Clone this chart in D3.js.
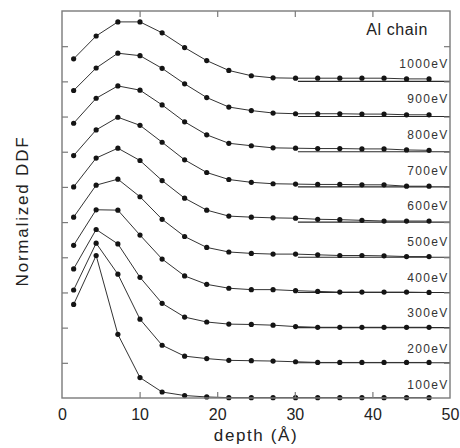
<!DOCTYPE html>
<html>
<head>
<meta charset="utf-8">
<script src="https://cdn.jsdelivr.net/npm/d3@7"></script>
<style>
  html, body { margin: 0; padding: 0; background: #fff; }
  svg { display: block; font-family: "Liberation Sans", Arial, Helvetica, sans-serif; }
</style>
</head>
<body>
<svg id="chart" width="460" height="448"></svg>
<script>
// ---- data ----
const depths = [1.5, 4.4, 7.2, 10.05, 12.9, 15.8, 18.65, 21.5, 24.4, 27.2, 30.1, 32.95, 35.8, 38.65, 41.5, 44.4, 47.3];
const energies = ["100eV", "200eV", "300eV", "400eV", "500eV", "600eV", "700eV", "800eV", "900eV", "1000eV"];
const offsets = [0, 1, 2, 3, 4, 5, 6, 7, 8, 9];
const e100  = [2.66, 4.05, 1.81, 0.58, 0.17, 0.07, 0.03, 0.01, 0.01, 0.01, 0.01, 0.01, 0.01, 0.01, 0.01, 0.01, 0.01];
const e200  = [2.07, 3.40, 2.52, 1.24, 0.50, 0.19, 0.12, 0.07, 0.06, 0.05, 0.03, 0.01, 0.01, 0.01, 0.01, 0.01, 0.01];
const e300  = [1.67, 2.79, 2.38, 1.43, 0.69, 0.30, 0.16, 0.10, 0.09, 0.07, 0.03, 0.01, 0.01, 0.01, 0.01, 0.01, 0.01];
const e400  = [1.34, 2.35, 2.34, 1.63, 0.95, 0.47, 0.23, 0.12, 0.08, 0.08, 0.05, 0.03, 0.01, 0.01, 0.01, 0.01, 0.00];
const e500  = [1.14, 2.05, 2.22, 1.72, 1.08, 0.59, 0.28, 0.15, 0.11, 0.09, 0.09, 0.07, 0.05, 0.05, 0.04, 0.02, 0.02];
const e600  = [1.00, 1.82, 2.10, 1.75, 1.18, 0.68, 0.34, 0.17, 0.14, 0.12, 0.11, 0.08, 0.07, 0.05, 0.03, 0.03, 0.03];
const e700  = [0.89, 1.62, 1.98, 1.75, 1.27, 0.77, 0.41, 0.21, 0.13, 0.09, 0.08, 0.07, 0.07, 0.06, 0.06, 0.02, 0.02];
const e800  = [0.81, 1.52, 1.87, 1.75, 1.33, 0.85, 0.48, 0.24, 0.17, 0.11, 0.10, 0.09, 0.09, 0.08, 0.08, 0.05, 0.04];
const e900  = [0.74, 1.38, 1.80, 1.73, 1.37, 0.93, 0.54, 0.27, 0.17, 0.10, 0.08, 0.08, 0.08, 0.07, 0.07, 0.05, 0.05];
const e1000 = [0.64, 1.29, 1.69, 1.69, 1.38, 0.96, 0.59, 0.31, 0.16, 0.10, 0.09, 0.09, 0.09, 0.09, 0.09, 0.07, 0.07];
const xTicks = [0, 10, 20, 30, 40, 50];
const yTicks = [0, 1, 2, 3, 4, 5, 6, 7, 8, 9, 10, 11];
const baselineStart = 30.4;

const series = [e100, e200, e300, e400, e500, e600, e700, e800, e900, e1000];

// ---- layout ----
const L = 62, R = 450, T = 11, B = 398;
const svg = d3.select("#chart");
const x = d3.scaleLinear().domain([0, 50]).range([L, R]);
const y = d3.scaleLinear().domain([0, 11]).range([B, T]);

const frameColor = "#7a7a7a";

// baselines (right part)
svg.append("g").selectAll("line").data(offsets.slice(1)).join("line")
  .attr("x1", x(baselineStart)).attr("x2", x(50))
  .attr("y1", d => y(d)).attr("y2", d => y(d))
  .attr("stroke", "#2a2a2a").attr("stroke-width", 1.1);

// curves
const line = d3.line().x(d => x(d[0])).y(d => y(d[1]));
series.forEach((vals, i) => {
  const pts = vals.map((v, j) => [depths[j], v + offsets[i]]);
  svg.append("path").datum(pts)
    .attr("d", line).attr("fill", "none")
    .attr("stroke", "#333").attr("stroke-width", 1);
  svg.append("g").selectAll("circle").data(pts).join("circle")
    .attr("cx", d => x(d[0])).attr("cy", d => y(d[1])).attr("r", 2.6)
    .attr("fill", "#141414");
});

// axes
function styleAxis(g) {
  g.select(".domain").remove();
  g.selectAll(".tick line").attr("stroke", frameColor).attr("stroke-width", 1.2);
  g.selectAll("text").attr("fill", "#222");
}
const innerX = xTicks.slice(1, -1);
const innerY = yTicks.slice(1, -1);

svg.append("g").attr("transform", `translate(0,${B})`)
  .call(d3.axisBottom(x).tickValues(xTicks).tickSize(-6).tickSizeOuter(0).tickPadding(10.5))
  .call(styleAxis)
  .call(g => g.selectAll(".tick").filter(d => d === 0 || d === 50).select("line").remove())
  .call(g => g.selectAll("text").attr("font-size", 16).attr("font-family", "'Liberation Sans', Arial, sans-serif"));

svg.append("g").attr("transform", `translate(0,${T})`)
  .call(d3.axisTop(x).tickValues(innerX).tickSize(-6).tickSizeOuter(0).tickFormat(""))
  .call(styleAxis);

svg.append("g").attr("transform", `translate(${L},0)`)
  .call(d3.axisLeft(y).tickValues(innerY).tickSize(-6).tickSizeOuter(0).tickFormat(""))
  .call(styleAxis);

svg.append("g").attr("transform", `translate(${R},0)`)
  .call(d3.axisRight(y).tickValues(innerY).tickSize(-6).tickSizeOuter(0).tickFormat(""))
  .call(styleAxis);

// frame
svg.append("rect").attr("x", L).attr("y", T).attr("width", R - L).attr("height", B - T)
  .attr("fill", "none").attr("stroke", frameColor).attr("stroke-width", 1.4);

// energy labels
svg.append("g").selectAll("text").data(energies).join("text")
  .attr("x", 448.5)
  .attr("y", (d, i) => y(offsets[i]) - 9.5 - offsets[i] * 0.45)
  .attr("text-anchor", "end")
  .attr("font-size", 12).attr("letter-spacing", 1.3)
  .attr("fill", "#333")
  .text(d => d);

// title
svg.append("text").attr("x", 428).attr("y", 35).attr("text-anchor", "end")
  .attr("font-size", 16).attr("letter-spacing", 0.6).attr("fill", "#222")
  .text("Al chain");

// axis titles
svg.append("text").attr("x", 256).attr("y", 441).attr("text-anchor", "middle")
  .attr("font-size", 17).attr("letter-spacing", 1.6).attr("fill", "#222")
  .text("depth (Å)");

svg.append("text").attr("transform", "translate(28,211) rotate(-90)")
  .attr("text-anchor", "middle")
  .attr("font-size", 17).attr("letter-spacing", 1.8).attr("fill", "#222")
  .text("Normalized DDF");
</script>
</body>
</html>
